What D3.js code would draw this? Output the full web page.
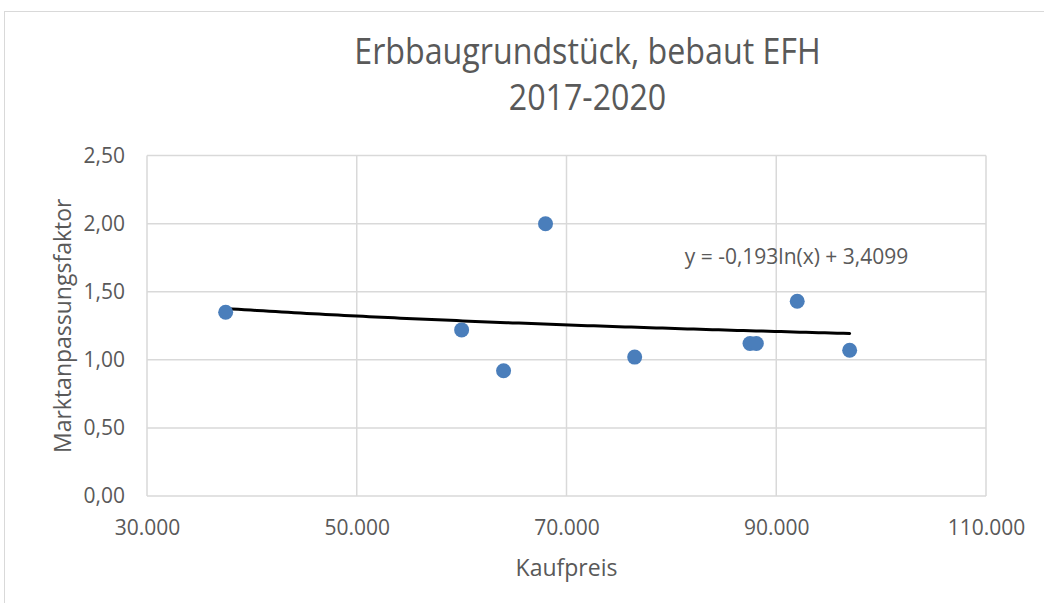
<!DOCTYPE html>
<html>
<head>
<meta charset="utf-8">
<script src="https://cdn.jsdelivr.net/npm/d3@7"></script>
<style>
  html, body { margin: 0; padding: 0; background: #fff; }
  svg { display: block; }
  text { font-family: "Open Sans", sans-serif; fill: #595959; }
</style>
</head>
<body>
<svg id="chart" width="1044" height="603"></svg>
<script>
// Kaufpreis (EUR) and Marktanpassungsfaktor of each sale
const kaufpreis = [37500, 60000, 64000, 68000, 76500, 87500, 88100, 92000, 97000];
const faktor    = [1.35, 1.22, 0.92, 2.00, 1.02, 1.12, 1.12, 1.43, 1.07];

// axis ticks
const xTicks = [30000, 50000, 70000, 90000, 110000];
const yTicks = [0, 0.5, 1.0, 1.5, 2.0, 2.5];

// logarithmic trend y = a*ln(x) + b
const trendA = -0.193;
const trendB = 3.4099;

const titleLines = ["Erbbaugrundstück, bebaut EFH", "2017-2020"];
const xTitle = "Kaufpreis";
const yTitle = "Marktanpassungsfaktor";

const de = d3.formatLocale({ decimal: ",", thousands: ".", grouping: [3], currency: ["", " €"] });
const fmtX = de.format(",.0f");
const fmtY = de.format(".2f");
const fmtCoef = v => String(v).replace(".", ",");

const svg = d3.select("#chart");
const plot = { left: 147, right: 986, top: 155.6, bottom: 496 };

const x = d3.scaleLinear().domain([30000, 110000]).range([plot.left, plot.right]);
const y = d3.scaleLinear().domain([0, 2.5]).range([plot.bottom, plot.top]);

// chart frame
svg.append("rect")
  .attr("x", 4.5).attr("y", 11.5)
  .attr("width", 1100).attr("height", 640)
  .attr("fill", "none").attr("stroke", "#d9d9d9").attr("stroke-width", 1);

// gridlines
const grid = svg.append("g").attr("stroke", "#d9d9d9").attr("stroke-width", 1.5);
grid.selectAll("line.h").data(yTicks).join("line")
  .attr("x1", plot.left).attr("x2", plot.right)
  .attr("y1", d => y(d)).attr("y2", d => y(d));
grid.selectAll("line.v").data(xTicks).join("line")
  .attr("y1", plot.top).attr("y2", plot.bottom)
  .attr("x1", d => x(d)).attr("x2", d => x(d));

// x axis labels
const xAxis = svg.append("g").attr("transform", `translate(0,${plot.bottom})`)
  .call(d3.axisBottom(x).tickValues(xTicks).tickFormat(fmtX).tickSize(0).tickPadding(0));
xAxis.select(".domain").remove();
xAxis.selectAll("text")
  .attr("dy", null).attr("y", 39)
  .attr("fill", "#595959").style("font-size", "21px").style("font-family", "Open Sans");

// y axis labels
const yAxis = svg.append("g").attr("transform", `translate(${plot.left},0)`)
  .call(d3.axisLeft(y).tickValues(yTicks).tickFormat(fmtY).tickSize(0).tickPadding(22));
yAxis.select(".domain").remove();
yAxis.selectAll("text")
  .attr("fill", "#595959").style("font-size", "21px").style("font-family", "Open Sans");

// trend line over the range of the data
const [xMin, xMax] = d3.extent(kaufpreis);
const trendPts = d3.range(0, 101).map(i => {
  const xv = xMin + (xMax - xMin) * i / 100;
  return [xv, trendA * Math.log(xv) + trendB];
});
svg.append("path")
  .datum(trendPts)
  .attr("fill", "none").attr("stroke", "#000").attr("stroke-width", 3)
  .attr("stroke-linecap", "round")
  .attr("d", d3.line().x(d => x(d[0])).y(d => y(d[1])));

// data points
svg.append("g").selectAll("circle")
  .data(kaufpreis.map((k, i) => [k, faktor[i]]))
  .join("circle")
  .attr("cx", d => x(d[0])).attr("cy", d => y(d[1]))
  .attr("r", 7.5).attr("fill", "#4a7ebb");

// trend equation
svg.append("text")
  .attr("x", 796.5).attr("y", 264)
  .attr("text-anchor", "middle").style("font-size", "21px")
  .text(`y = ${fmtCoef(trendA)}ln(x) + ${fmtCoef(trendB)}`);

// title
const title = svg.append("g").attr("transform", "translate(587.5,0) scale(0.87,1)");
title.selectAll("text").data(titleLines).join("text")
  .attr("x", 0).attr("y", (d, i) => 64.5 + i * 46)
  .attr("text-anchor", "middle").style("font-size", "37px").style("font-weight", 400)
  .text(d => d);

// axis titles
svg.append("text")
  .attr("x", (plot.left + plot.right) / 2).attr("y", 576)
  .attr("text-anchor", "middle").style("font-size", "23px")
  .text(xTitle);
svg.append("text")
  .attr("transform", `translate(71,${(plot.top + plot.bottom) / 2}) rotate(-90)`)
  .attr("text-anchor", "middle").style("font-size", "23px")
  .text(yTitle);
</script>
</body>
</html>
